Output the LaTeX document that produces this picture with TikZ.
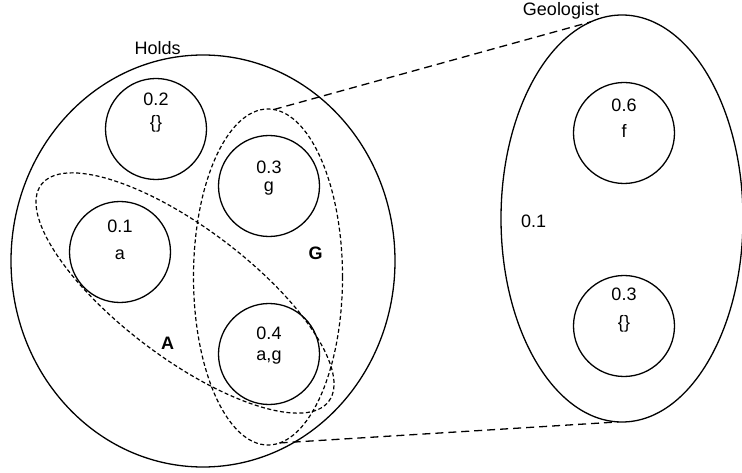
\documentclass[tikz,border=0pt]{standalone}
\usepackage{fontspec}
\setmainfont{Liberation Sans}
\usetikzlibrary{shapes.geometric}
\begin{document}
\begin{tikzpicture}[x=1pt,y=-1pt,
  circ/.style={circle, draw, line width=1.3pt, minimum size=101pt, inner sep=0pt, outer sep=0pt},
  bigell/.style={ellipse, draw, line width=1.3pt, inner sep=0pt, outer sep=0pt},
  setell/.style={ellipse, draw, line width=1.2pt, dash pattern=on 4pt off 2.5pt, inner sep=0pt, outer sep=0pt},
  link/.style={line width=1.3pt, dash pattern=on 8pt off 5pt},
  txt/.style={font=\fontsize{18}{21}\selectfont, anchor=base, inner sep=0pt},
  boldtxt/.style={txt, font=\fontsize{18}{21}\selectfont\bfseries}]
\useasboundingbox (0,0) rectangle (742,473);
% outer sets
\node[bigell, minimum width=384pt, minimum height=412pt] (holds) at (203,261) {};
\node[bigell, minimum width=242pt, minimum height=407pt] (geo) at (622,218.5) {};
% circles
\node[circ] (c02) at (156,129) {};
\node[circ] (c01) at (120,252) {};
\node[circ] (c03) at (269,186) {};
\node[circ] (c04) at (269,354) {};
\node[circ] (c06) at (624,133) {};
\node[circ] (c03b) at (624,326) {};
% dashed sets
\node[setell, minimum width=360pt, minimum height=130pt, rotate=-37] (aset) at (185,293) {};
\node[setell, minimum width=149pt, minimum height=336pt] (gset) at (268,277) {};
% connectors
\draw[link] (gset.88) -- (geo.99);
\draw[link] (gset.274) -- (geo.269);
% texts
\node[txt] (lholds) at (157.7,55) {Holds};
\node[txt] (lgeo) at (561,16) {Geologist};
\node[txt] (t02a) at (156,106) {0.2};
\node[txt] (t02b) at (156,129) {\{\}};
\node[txt] (t01a) at (120,232.7) {0.1};
\node[txt] (t01b) at (120,259.3) {a};
\node[txt] (t03a) at (269,173.3) {0.3};
\node[txt] (t03b) at (269,192) {g};
\node[txt] (t04a) at (269,339.3) {0.4};
\node[txt] (t04b) at (269,360) {a,g};
\node[txt] (t06a) at (624,111.7) {0.6};
\node[txt] (t06b) at (624,137.7) {f};
\node[txt] (t3ba) at (624,300.7) {0.3};
\node[txt] (t3bb) at (624,328) {\{\}};
\node[txt] (tgeo) at (533.7,227.7) {0.1};
\node[boldtxt] (lG) at (315.5,260) {G};
\node[boldtxt] (lA) at (167.5,349.3) {A};
\end{tikzpicture}
\end{document}
